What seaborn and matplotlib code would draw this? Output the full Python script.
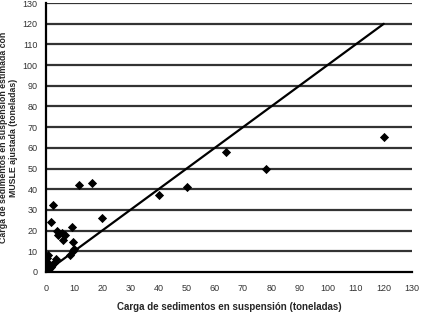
import numpy as np
import pandas as pd
import matplotlib
matplotlib.use("Agg")
import matplotlib.pyplot as plt
import seaborn as sns

# observed vs estimated suspended sediment load (tonnes)
observed = [120, 78, 64, 50, 40, 20, 16.5, 11.8, 2.4, 1.8, 3.8, 4.4, 5.8, 6.2, 6.7,
            9.4, 9.6, 8.5, 9.5, 10.0, 0.5, 0.8, 3.4, 2.0, 0.0, 0.3, 1.6, 2.8, 0.2, 1.0]
estimated = [65, 50, 58, 41, 37, 26, 43, 42, 32.5, 24, 20, 18, 19, 15.5, 18,
             21.5, 14.5, 8, 10, 11, 6.5, 8, 6, 3.5, 2, 5, 2.5, 4.5, 0.5, 1.2]
line_x = [0, 120]
line_y = [0, 120]
ticks = list(range(0, 131, 10))

sns.set_style("white")
plt.rcParams['font.family'] = ['Liberation Sans', 'DejaVu Sans']

df = pd.DataFrame({"obs": observed, "est": estimated})
line_df = pd.DataFrame({"x": line_x, "y": line_y})

fig = plt.figure(figsize=(4.22, 3.15), dpi=100)
ax = fig.add_axes([0.109, 0.137, 0.867, 0.853])

for t in ticks[1:]:
    ax.axhline(t, color="#333333", lw=1.6, zorder=0)

sns.lineplot(data=line_df, x="x", y="y", color="black", lw=1.6, ax=ax, zorder=2)
sns.scatterplot(data=df, x="obs", y="est", marker="D", color="black", s=22,
                edgecolor="black", linewidth=0, ax=ax, zorder=3)

ax.set_xlim(0, 130)
ax.set_ylim(0, 130)
ax.set_xticks(ticks)
ax.set_yticks(ticks)
ax.tick_params(axis="both", labelsize=6.5, length=3, width=1.2, direction="out",
               colors="black", pad=3)
ax.tick_params(axis="x", pad=6)
ax.tick_params(axis="x", labelcolor="#333333")
ax.tick_params(axis="y", labelcolor="#333333")
for s in ["top", "right"]:
    ax.spines[s].set_visible(False)
for s in ["left", "bottom"]:
    ax.spines[s].set_color("black")
    ax.spines[s].set_linewidth(1.6)

ax.set_xlabel("Carga de sedimentos en suspensión (toneladas)", fontsize=7,
              fontweight="bold", labelpad=6)
ax.set_ylabel("Carga de sedimentos en suspensión estimada con\nMUSLE ajustada (toneladas)",
              fontsize=6.3, fontweight="bold", labelpad=3)

fig.savefig("out.png", dpi=100)
